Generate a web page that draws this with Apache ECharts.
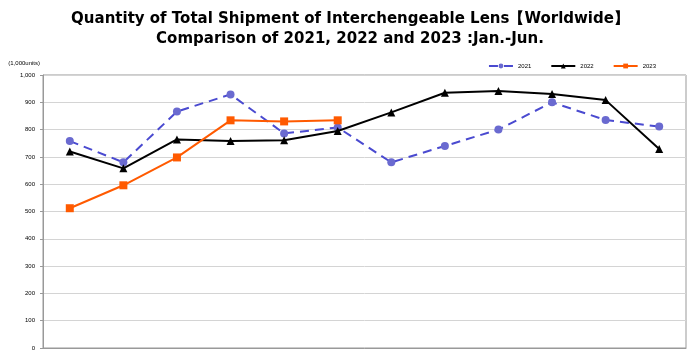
<!DOCTYPE html>
<html><head><meta charset="utf-8">
<script src="https://cdn.jsdelivr.net/npm/echarts@6/dist/echarts.min.js"></script>
<style>html,body{margin:0;padding:0;background:#fff}#c{width:700px;height:356px}</style>
</head><body><div id="c"></div>
<script>
const months = ['Jan','Feb','Mar','Apr','May','Jun','Jul','Aug','Sep','Oct','Nov','Dec'];
const s2021 = [758, 680, 866, 929, 786, 808, 680, 740, 800, 900, 835, 811];
const s2022 = [720, 658, 764, 758, 761, 795, 863, 935, 941, 930, 908, 729];
const s2023 = [512, 596, 698, 834, 830, 834];
const titleLines = ['Quantity of Total Shipment of Interchengeable Lens【Worldwide】', 'Comparison of 2021, 2022 and 2023 :Jan.-Jun.'];
const unitLabel = '(1,000units)';

const chart = echarts.init(document.getElementById('c'));
chart.setOption({
  animation: false,
  title: {
    text: titleLines.join('\n'),
    left: 'center', top: 4,
    textStyle: {fontFamily: 'DejaVu Sans', fontSize: 15, fontWeight: 'bold', color: '#000', lineHeight: 20}
  },
  legend: {
    top: 58, right: 39, itemGap: 19, itemWidth: 24, itemHeight: 6,
    textStyle: {fontSize: 6, fontFamily: 'Liberation Sans, Arial', color: '#000'},
    data: ['2021','2022','2023']
  },
  grid: {left: 43, right: 14, top: 75, bottom: 8, show: true, borderColor: '#999', borderWidth: 1},
  xAxis: {
    type: 'category', data: months, boundaryGap: true,
    axisLabel: {show: false}, axisTick: {show: false},
    axisLine: {lineStyle: {color: '#999'}}
  },
  yAxis: {
    type: 'value', min: 0, max: 1000, interval: 100,
    name: unitLabel, nameLocation: 'end', nameGap: 9,
    nameTextStyle: {fontSize: 6, fontFamily: 'Liberation Sans, Arial', color: '#000', align: 'right', padding: [0, 3, 0, 0]},
    axisLine: {show: true, lineStyle: {color: '#999'}},
    axisTick: {show: true, length: 3, lineStyle: {color: '#999'}},
    axisLabel: {fontSize: 6, fontFamily: 'Liberation Sans, Arial', color: '#000', margin: 8,
      formatter: v => v.toLocaleString('en-US')},
    splitLine: {lineStyle: {color: '#d4d4d4', width: 1}}
  },
  series: [
    {name: '2021', type: 'line', data: s2021, symbol: 'circle', symbolSize: 8,
      lineStyle: {color: '#4a4ad0', width: 2, type: [9, 6]},
      itemStyle: {color: '#6a6ad0'}, z: 2},
    {name: '2022', type: 'line', data: s2022, symbol: 'triangle', symbolSize: 8,
      lineStyle: {color: '#000', width: 2}, itemStyle: {color: '#000'}, z: 3},
    {name: '2023', type: 'line', data: s2023, symbol: 'rect', symbolSize: 8,
      lineStyle: {color: '#ff5a00', width: 2}, itemStyle: {color: '#ff5a00'}, z: 4}
  ]
});
</script></body></html>
